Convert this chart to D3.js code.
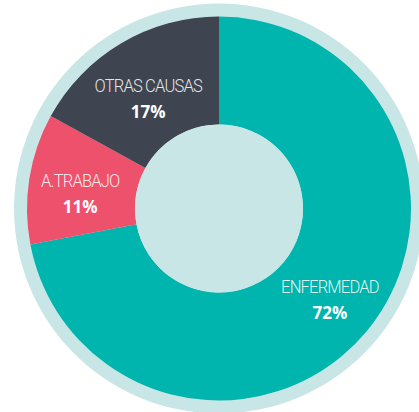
<!DOCTYPE html>
<html><head><meta charset="utf-8">
<script src="https://cdn.jsdelivr.net/npm/d3@7"></script>
<style>html,body{margin:0;padding:0;background:#fff;}svg{display:block;}</style>
</head><body>
<svg id="c" width="419" height="412"></svg>
<script>
const categories = ["ENFERMEDAD", "A.TRABAJO", "OTRAS CAUSAS"];
const values = [72, 11, 17];
const colors = ["#00b5ad", "#ee516c", "#3f4550"];

const W = 419, H = 412, cx = 219, cy = 208.5;
const rRing = 205, rOuter = 192, rInner = 84, rLabel = 142;
const labelNudgeY = [-7, 0, 5];
const svg = d3.select("#c");
const g = svg.append("g").attr("transform", `translate(${cx},${cy})`);

g.append("circle").attr("r", rRing).attr("fill", "#c9e6e6");

const data = categories.map((c, i) => ({cat: c, v: values[i], col: colors[i], i}));
const pie = d3.pie().sort(null).value(d => d.v);
const arc = d3.arc().innerRadius(rInner).outerRadius(rOuter);
const labelArc = d3.arc().innerRadius(rLabel).outerRadius(rLabel);
const arcs = pie(data);

g.selectAll("path.s").data(arcs).join("path").attr("class", "s")
  .attr("d", arc).attr("fill", d => d.data.col);

g.append("circle").attr("r", rInner).attr("fill", "#c9e6e6");

const lab = g.selectAll("g.l").data(arcs).join("g").attr("class", "l")
  .attr("transform", d => { const [x, y] = labelArc.centroid(d); return `translate(${x + 1.5},${y + labelNudgeY[d.data.i]})`; });
lab.append("text").attr("text-anchor", "middle").attr("y", 1)
  .attr("font-family", "Roboto").attr("font-weight", 300).attr("font-size", 18)
  .attr("transform", "scale(0.92,1)").attr("letter-spacing", -0.9)
  .attr("fill", "#fff").attr("fill-opacity", 0.88).text(d => d.data.cat);
lab.append("text").attr("text-anchor", "middle").attr("y", 27)
  .attr("font-family", "Open Sans").attr("font-weight", 700).attr("font-size", 17)
  .attr("fill", "#fff").text(d => d.data.v + "%");
</script>
</body></html>
